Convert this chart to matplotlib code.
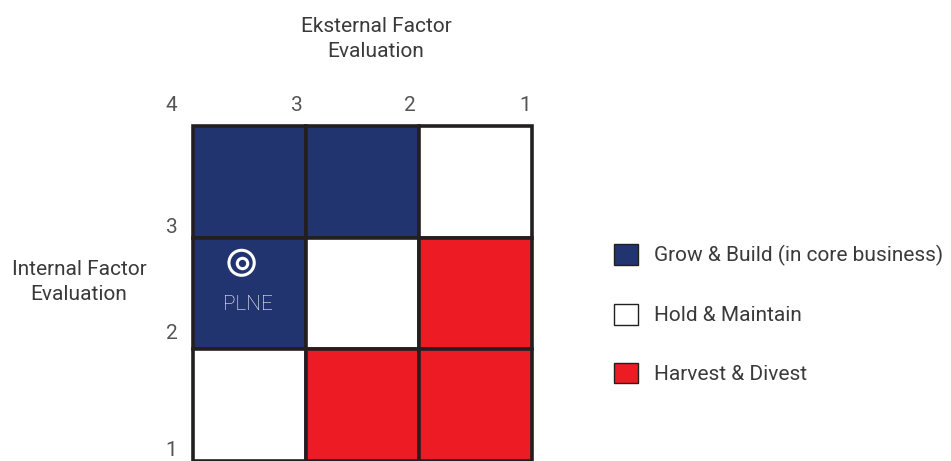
import numpy as np
import matplotlib.pyplot as plt
from matplotlib.patches import Rectangle, Circle, Patch

plt.rcParams['font.family'] = ['Roboto', 'DejaVu Sans']

# IE matrix data
efe_ticks = [4, 3, 2, 1]          # external factor evaluation (top axis)
ife_ticks = [3, 2, 1]             # internal factor evaluation (left axis)
# cell strategy per row (top row first), columns left -> right
cells = [
    ['grow', 'grow', 'hold'],
    ['grow', 'hold', 'harvest'],
    ['hold', 'harvest', 'harvest'],
]
strategies = ['grow', 'hold', 'harvest']
strategy_labels = ['Grow & Build (in core business)', 'Hold & Maintain', 'Harvest & Divest']
colors = {'grow': '#213470', 'hold': '#ffffff', 'harvest': '#ed1c24'}
company = 'PLNE'
company_cell = (0, 1)  # (col, row from top)

edge = '#231f20'
txt = '#3a3a3a'
fs = 15

fig = plt.figure(figsize=(9.51, 4.61), dpi=100)
W, H = 951, 461
ax = fig.add_axes([193 / W, 0, (532 - 193) / W, 335 / H])
ax.set_xlim(0, 3)
ax.set_ylim(3, 0)
ax.axis('off')

for r, row in enumerate(cells):
    for c, s in enumerate(row):
        ax.add_patch(Rectangle((c, r), 1, 1, facecolor=colors[s], edgecolor=edge,
                               linewidth=2.6, clip_on=False))

# company marker
cx, cy = company_cell[0] + 0.43, company_cell[1] + 0.225
ax.add_patch(Circle((cx, cy), 0.112, fill=False, edgecolor='white', linewidth=2.2))
ax.plot([cx], [cy], marker='o', markersize=7.5, markerfacecolor='none',
        markeredgecolor='white', markeredgewidth=2.2, linestyle='none')
ax.text(company_cell[0] + 0.49, company_cell[1] + 0.6, company, color='white',
        fontsize=fs, ha='center', va='center', fontweight='light')

# top tick labels
xpos = [-0.19, 0.92, 1.92, 2.94]
for x, t in zip(xpos, efe_ticks):
    ax.text(x, -0.185, str(t), ha='center', va='center', fontsize=fs, color='#555555',
            clip_on=False)
# left tick labels
ypos = [0.91, 1.86, 2.91]
for y, t in zip(ypos, ife_ticks):
    ax.text(-0.19, y, str(t), ha='center', va='center', fontsize=fs,
            color='#555555', clip_on=False)

fig.text(376 / W, 1 - 39 / H, 'Eksternal Factor\nEvaluation', ha='center', va='center',
         fontsize=fs, color=txt, linespacing=1.35)
fig.text(79 / W, 1 - 282 / H, 'Internal Factor\nEvaluation', ha='center', va='center',
         fontsize=fs, color=txt, linespacing=1.35)

handles = [Patch(facecolor=colors[s], edgecolor=edge, linewidth=1) for s in strategies]
leg = fig.legend(handles, strategy_labels, loc='upper left',
                 bbox_to_anchor=(606 / W, 1 - 236 / H), frameon=False,
                 fontsize=fs, handlelength=1.15, handleheight=1.15,
                 labelspacing=1.8, handletextpad=0.75, borderaxespad=0)
for t in leg.get_texts():
    t.set_color(txt)

fig.savefig('out.png', dpi=100)
